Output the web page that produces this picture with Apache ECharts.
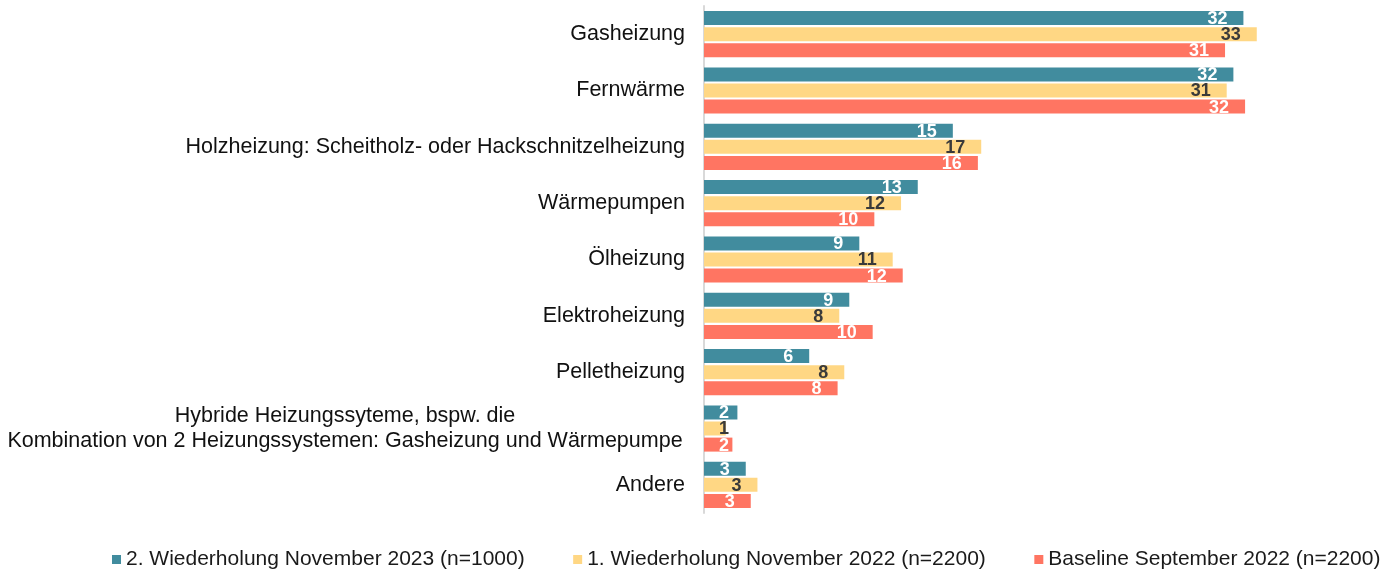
<!DOCTYPE html>
<html>
<head>
<meta charset="utf-8">
<script src="https://cdn.jsdelivr.net/npm/echarts@6/dist/echarts.min.js"></script>
<style>
  html, body { margin: 0; padding: 0; background: #fff; }
  #chart { width: 1382px; height: 575px; }
</style>
</head>
<body>
<div id="chart"></div>
<script>
const categories = [
  'Gasheizung',
  'Fernwärme',
  'Holzheizung: Scheitholz- oder Hackschnitzelheizung',
  'Wärmepumpen',
  'Ölheizung',
  'Elektroheizung',
  'Pelletheizung',
  'Hybride Heizungssyteme, bspw. die\nKombination von 2 Heizungssystemen: Gasheizung und Wärmepumpe',
  'Andere',
]
const seriesNames = [
  '2. Wiederholung November 2023 (n=1000)',
  '1. Wiederholung November 2022 (n=2200)',
  'Baseline September 2022 (n=2200)',
]
const wave2023 = [32.3, 31.7, 14.9, 12.8, 9.3, 8.7, 6.3, 2.0, 2.5]
const wave2022 = [33.1, 31.3, 16.6, 11.8, 11.3, 8.1, 8.4, 1.3, 3.2]
const baseline = [31.2, 32.4, 16.4, 10.2, 11.9, 10.1, 8.0, 1.7, 2.8]

const colors = ['#418c9e', '#ffd784', '#ff7562']
const labelColors = ['#ffffff', '#3a3a3a', '#ffffff']
const font = "'Liberation Sans', Arial, sans-serif"

const chart = echarts.init(document.getElementById('chart'), null, { renderer: 'canvas' })

// short bars: the label sticks to the bar start like in the original
const toData = (values) => values.map((v) => (
  v < 2.3
    ? { value: v, label: { position: 'insideLeft', distance: 15 } }
    : v
))

const makeSeries = (name, values, i) => ({
  name,
  type: 'bar',
  data: toData(values),
  barWidth: 14,
  barGap: '15%',
  itemStyle: { color: colors[i] },
  label: {
    show: true,
    position: 'insideRight',
    distance: 16,
    offset: [0, 1],
    color: labelColors[i],
    fontFamily: font,
    fontWeight: 'bold',
    fontSize: 18,
    formatter: (p) => Math.round(p.value),
  },
  emphasis: { disabled: true },
})

const option = {
  backgroundColor: '#ffffff',
  animation: false,
  textStyle: { fontFamily: font },
  grid: { left: 704, right: 10, top: 6, bottom: 62, containLabel: false },
  legend: {
    left: 112,
    top: 549,
    width: 1270,
    padding: 0,
    itemWidth: 9,
    itemHeight: 9,
    itemGap: 48.5,
    icon: 'rect',
    textStyle: { fontSize: 21, color: '#1a1a1a', fontFamily: font },
    data: seriesNames,
  },
  xAxis: {
    type: 'value',
    min: 0,
    max: 40,
    show: false,
  },
  yAxis: {
    type: 'category',
    inverse: true,
    data: categories,
    axisTick: { show: false },
    axisLine: { show: true, lineStyle: { color: '#d9d9d9', width: 2 } },
    axisLabel: {
      margin: 19,
      fontSize: 21.5,
      color: '#111111',
      fontFamily: font,
      lineHeight: 25,
      formatter: (val) => {
        if (val.indexOf('\n') < 0) return val
        return val.split('\n').map((l) => '{c|' + l + '}').join('\n')
      },
      rich: {
        c: { width: 680, align: 'center', fontSize: 21.5, lineHeight: 25, color: '#111111', fontFamily: font },
      },
    },
  },
  series: [
    makeSeries(seriesNames[0], wave2023, 0),
    makeSeries(seriesNames[1], wave2022, 1),
    makeSeries(seriesNames[2], baseline, 2),
  ],
}

chart.setOption(option)
</script>
</body>
</html>
